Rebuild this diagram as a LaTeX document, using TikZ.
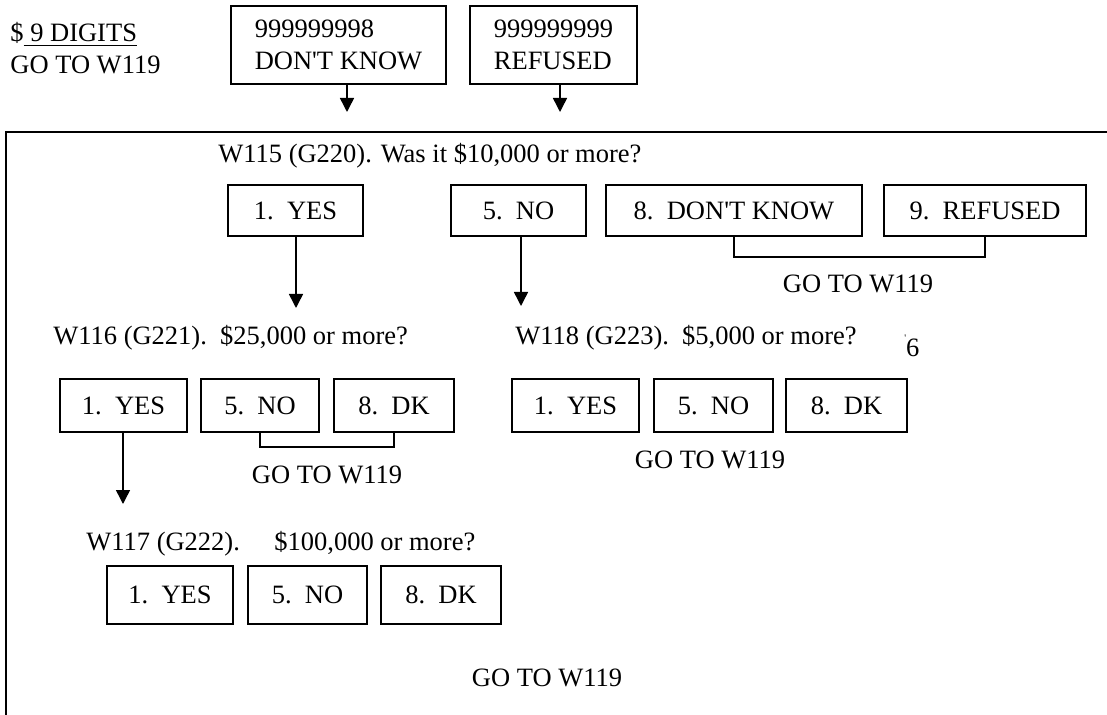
\documentclass[tikz,border=0pt]{standalone}
\usepackage{fontspec}
\setmainfont{Liberation Serif}
\usetikzlibrary{positioning,calc,arrows.meta}

\begin{document}
\begin{tikzpicture}[x=0.5pt, y=-0.5pt,
  every node/.style={font=\fontsize{13.25}{16}\selectfont},
  optbox/.style={draw, line width=1pt, inner sep=0pt},
  rowa/.style={optbox, minimum height=25.5pt},
  rowb/.style={optbox, minimum height=26.5pt},
  rowc/.style={optbox, minimum height=29pt},
  lbl/.style={anchor=base west, inner sep=0pt},
  goto/.style={anchor=base, inner sep=0pt},
  arr/.style={-{Triangle[length=7pt,width=7pt]}, line width=0.75pt},
  brk/.style={line width=0.75pt}
]
  \useasboundingbox (0,0) rectangle (1107,715);

  % amount given
  \node[lbl] (digits) at (10,42) {\$\underline{\ 9 DIGITS}};
  \node[lbl] (digitsgo) at (10,74) {GO TO W119};
  \node[optbox, minimum width=107.5pt, minimum height=39pt, align=left] (dktop) at (338.5,45) {999999998\\DON\textquotesingle T KNOW};
  \node[optbox, minimum width=83.5pt, minimum height=39pt, align=left] (reftop) at (553.5,45) {999999999\\REFUSED};
  \coordinate (dkend) at (347,112);
  \coordinate (refend) at (560,112);
  \draw[arr] (dktop.south -| dkend) -- (dkend);
  \draw[arr] (reftop.south -| refend) -- (refend);

  \draw[line width=1pt] (6,715) -- (6,132) -- (1107,132);

  % W115
  \node[lbl] (w115) at (218,163) {W115 (G220). Was it \$10,000 or more?};
  \node[rowa, minimum width=67.5pt] (q1yes) at (295.5,210.5) {1.\ \ YES};
  \node[rowa, minimum width=67.5pt] (q1no) at (518.5,210.5) {5.\ \ NO};
  \node[rowa, minimum width=128pt] (q1dk) at (734,210.5) {8.\ \ DON\textquotesingle T KNOW};
  \node[rowa, minimum width=101pt] (q1ref) at (985,210.5) {9.\ \ REFUSED};
  \coordinate (yesend) at (296,308);
  \coordinate (noend) at (521,306);
  \draw[arr] (q1yes.south -| yesend) -- (yesend);
  \draw[arr] (q1no.south -| noend) -- (noend);
  \draw[brk] (q1dk.south) -- ++(0,20) -| (q1ref.south);
  \node[goto] (go1) at (858,293) {GO TO W119};

  % W116
  \node[lbl] (w116) at (53,345) {W116 (G221).\ \ \$25,000 or more?};
  \node[rowb, minimum width=63.5pt] (q2yes) at (123.5,405.5) {1.\ \ YES};
  \node[rowb, minimum width=59pt] (q2no) at (260,405.5) {5.\ \ NO};
  \node[rowb, minimum width=60pt] (q2dk) at (394,405.5) {8.\ \ DK};
  \draw[brk] (q2no.south) -- ++(0,14) -| (q2dk.south);
  \node[goto] (go2) at (327,483) {GO TO W119};
  \coordinate (q2end) at (123,504);
  \draw[arr] (q2yes.south -| q2end) -- (q2end);

  % W118
  \node[lbl] (w118) at (515,345) {W118 (G223).\ \ \$5,000 or more?};
  \node[lbl] (pagemark) at (904,357) {\raisebox{0.6em}{\tiny\textquotesingle}6};
  \node[rowb, minimum width=63.5pt] (q3yes) at (575.5,405.5) {1.\ \ YES};
  \node[rowb, minimum width=59.5pt] (q3no) at (713.5,405.5) {5.\ \ NO};
  \node[rowb, minimum width=60.5pt] (q3dk) at (846.5,405.5) {8.\ \ DK};
  \node[goto] (go3) at (710,468) {GO TO W119};

  % W117
  \node[lbl] (w117) at (86,550) {W117 (G222).\hspace{1.3em}\$100,000 or more?};
  \node[rowc, minimum width=63pt] (q4yes) at (170,595) {1.\ \ YES};
  \node[rowc, minimum width=59.5pt] (q4no) at (307.5,595) {5.\ \ NO};
  \node[rowc, minimum width=60pt] (q4dk) at (441,595) {8.\ \ DK};
  \node[goto] (go4) at (547,686) {GO TO W119};
\end{tikzpicture}
\end{document}
